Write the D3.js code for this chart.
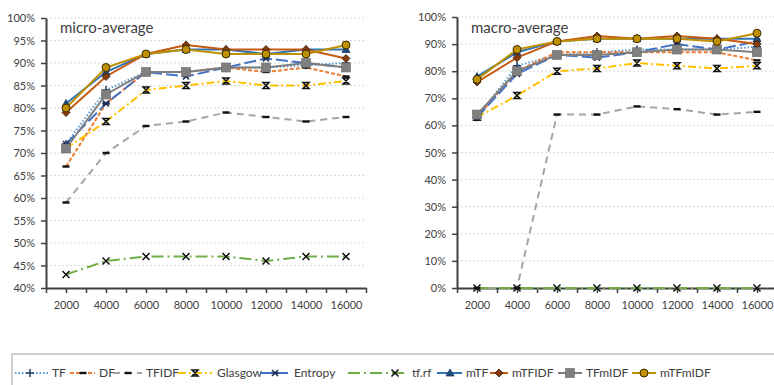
<!doctype html>
<html>
<head>
<meta charset="UTF-8">
<title>micro / macro average</title>
<script src="https://d3js.org/d3.v7.min.js"></script>
<style>
  body { margin: 0; background: #fff; }
  text { font-family: Lato, "Open Sans", sans-serif; fill: #404040; }
</style>
</head>
<body>
<script>
// feature counts on the x axis
var sizes = [2000, 4000, 6000, 8000, 10000, 12000, 14000, 16000];
var names = ["TF", "DF", "TFIDF", "Glasgow", "Entropy", "tf.rf", "mTF", "mTFIDF", "TFmIDF", "mTFmIDF"];

// micro-average (%)
var microTF      = [72, 84, 88, 88, 89, 89, 89.5, 90];
var microDF      = [67, 81, 88, 88, 89, 88, 89, 87];
var microTFIDF   = [59, 70, 76, 77, 79, 78, 77, 78];
var microGlasgow = [71, 77, 84, 85, 86, 85, 85, 86];
var microEntropy = [72, 81, 88, 87, 89, 91, 90, 89];
var microTfrf    = [43, 46, 47, 47, 47, 46, 47, 47];
var microMTF     = [81, 88, 92, 93, 93, 92, 93, 93];
var microMTFIDF  = [79, 87, 92, 94, 93, 93, 93, 91];
var microTFmIDF  = [71, 83, 88, 88, 89, 89, 90, 89];
var microMTFmIDF = [80, 89, 92, 93, 92, 92, 92, 94];

// macro-average (%)
var macroTF      = [63, 82, 86, 87, 88, 88, 88, 89];
var macroDF      = [63, 80, 87, 87, 87, 87, 87, 84];
var macroTFIDF   = [0, 0, 64, 64, 67, 66, 64, 65];
var macroGlasgow = [63, 71, 80, 81, 83, 82, 81, 82];
var macroEntropy = [63, 79, 86, 85, 87, 90, 88, 91];
var macroTfrf    = [0, 0, 0, 0, 0, 0, 0, 0];
var macroMTF     = [78, 87, 91, 92, 92, 92, 92, 92];
var macroMTFIDF  = [76, 85, 91, 93, 92, 93, 92, 90];
var macroTFmIDF  = [64, 80, 86, 86, 87, 88, 88, 87];
var macroMTFmIDF = [77, 88, 91, 92, 92, 92, 91, 94];

var microTicks = [40, 45, 50, 55, 60, 65, 70, 75, 80, 85, 90, 95, 100];
var macroTicks = [0, 10, 20, 30, 40, 50, 60, 70, 80, 90, 100];

var micro = [microTF, microDF, microTFIDF, microGlasgow, microEntropy, microTfrf, microMTF, microMTFIDF, microTFmIDF, microMTFmIDF];
var macro = [macroTF, macroDF, macroTFIDF, macroGlasgow, macroEntropy, macroTfrf, macroMTF, macroMTFIDF, macroTFmIDF, macroMTFmIDF];

// line styles, Excel-like
var styles = [
  {color: "#5b9bd5", dash: "1.5,2",      mark: "plus"},
  {color: "#ed7d31", dash: "4,2",        mark: "dash"},
  {color: "#a5a5a5", dash: "7,5",        mark: "dash"},
  {color: "#ffc000", dash: "8,3,2,3",    mark: "hour"},
  {color: "#4472c4", dash: "12,4",       mark: "star"},
  {color: "#70ad47", dash: "12,4,2,4",   mark: "cross"},
  {color: "#2e75b6", dash: null,         mark: "tri"},
  {color: "#c55a11", dash: null,         mark: "diamond"},
  {color: "#7f7f7f", dash: null,         mark: "square"},
  {color: "#bf9000", dash: null,         mark: "circle"}
];

var svg = d3.select("body").append("svg").attr("width", 774).attr("height", 385);

function marker(g, type, x, y) {
  if (type == "plus") {
    g.append("path").attr("d", "M" + (x-4) + "," + y + "h8M" + x + "," + (y-4) + "v8")
      .attr("stroke", "#1f3864").attr("stroke-width", 1.5);
  } else if (type == "dash") {
    g.append("rect").attr("x", x-3.5).attr("y", y-1.2).attr("width", 7).attr("height", 2.4).attr("fill", "#111");
  } else if (type == "hour") {
    g.append("path").attr("d", "M" + (x-3) + "," + (y-3) + "h6l-6,6h6z")
      .attr("stroke", "#111").attr("stroke-width", 1.5).attr("fill", "none");
  } else if (type == "star") {
    g.append("path").attr("d", "M" + (x-3) + "," + (y-3) + "l6,6M" + (x-3) + "," + (y+3) + "l6,-6M" + (x-3.5) + "," + y + "h7")
      .attr("stroke", "#1f2f5a").attr("stroke-width", 1.6);
  } else if (type == "cross") {
    g.append("path").attr("d", "M" + (x-3.5) + "," + (y-3.5) + "l7,7M" + (x-3.5) + "," + (y+3.5) + "l7,-7")
      .attr("stroke", "#111").attr("stroke-width", 1.5);
  } else if (type == "tri") {
    g.append("path").attr("d", "M" + x + "," + (y-4) + "l4,7h-8z")
      .attr("fill", "#1f4e79").attr("stroke", "#1f3864").attr("stroke-width", 0.8);
  } else if (type == "diamond") {
    g.append("path").attr("d", "M" + x + "," + (y-4) + "l4,4l-4,4l-4,-4z")
      .attr("fill", "#843c0c").attr("stroke", "#3a1a05").attr("stroke-width", 0.8);
  } else if (type == "square") {
    g.append("rect").attr("x", x-4.5).attr("y", y-4.5).attr("width", 9).attr("height", 9)
      .attr("fill", "#808080").attr("stroke", "#6a6a6a").attr("stroke-width", 0.6);
  } else if (type == "circle") {
    g.append("circle").attr("cx", x).attr("cy", y).attr("r", 4)
      .attr("fill", "#bf9000").attr("stroke", "#3a2c00").attr("stroke-width", 1);
  }
}

function panel(opt) {
  var x = d3.scaleLinear().domain([1000, 17000]).range([opt.left, opt.left + 320]);
  var y = d3.scaleLinear().domain([opt.ticks[0], 100]).range([288, opt.top]);
  var g = svg.append("g");

  // dotted gridlines
  g.selectAll(".grid").data(opt.ticks.slice(1)).enter().append("line")
    .attr("x1", opt.left).attr("x2", opt.gridEnd)
    .attr("y1", function(d){ return y(d); }).attr("y2", function(d){ return y(d); })
    .attr("stroke", "#d9d9d9").attr("stroke-dasharray", "2,2");

  var ya = g.append("g").attr("transform", "translate(" + opt.left + ",0)")
    .call(d3.axisLeft(y).tickValues(opt.ticks).tickFormat(function(d){ return d + "%"; }).tickSize(5).tickSizeOuter(0).tickPadding(6));
  var xa = g.append("g").attr("transform", "translate(0,288)")
    .call(d3.axisBottom(x).tickValues(d3.range(1000, 17001, 1000))
      .tickFormat(function(d){ return sizes.indexOf(d) >= 0 ? d : ""; }).tickSize(5).tickSizeOuter(0).tickPadding(8));
  [ya, xa].forEach(function(a){
    a.select(".domain").attr("stroke", "#404040").attr("stroke-width", 2);
    a.selectAll(".tick line").attr("stroke", "#404040").attr("stroke-width", 1.5);
    a.selectAll("text").style("font-size", "11px").attr("fill", "#404040");
  });

  var line = d3.line().x(function(d, i){ return x(sizes[i]); }).y(function(d){ return y(d); });
  opt.data.forEach(function(vals, k) {
    var s = styles[k];
    g.append("path").datum(vals).attr("d", line).attr("fill", "none")
      .attr("stroke", s.color).attr("stroke-width", 2)
      .attr("stroke-dasharray", s.dash);
  });
  opt.data.forEach(function(vals, k) {
    var mg = g.append("g");
    vals.forEach(function(v, i){ marker(mg, styles[k].mark, x(sizes[i]), y(v)); });
  });

  g.append("text").attr("x", opt.left + 14).attr("y", 33).text(opt.title)
    .style("font-size", "15px").attr("fill", "#262626");
}

panel({left: 46, top: 18, gridEnd: 366, ticks: microTicks, data: micro, title: "micro-average"});
panel({left: 457, top: 17, gridEnd: 774, ticks: macroTicks, data: macro, title: "macro-average"});

// legend: [line start, line end, marker x, text x]
var legPos = [
  [15, 48, 30, 52], [70, 95, 83, 99], [113, 142, 128, 146], [178, 212, 195, 217],
  [260, 290, 275, 294], [348, 408, 395, 412], [437, 462, 450, 466], [490, 508, 499, 512],
  [558, 582, 570, 586], [632, 656, 644, 660]
];
var leg = svg.append("g");
leg.append("rect").attr("x", 12).attr("y", 354).attr("width", 780).attr("height", 40)
  .attr("fill", "none").attr("stroke", "#bfbfbf").attr("stroke-width", 1.5);
names.forEach(function(n, k) {
  var s = styles[k], p = legPos[k];
  leg.append("line").attr("x1", p[0]).attr("x2", p[1]).attr("y1", 373).attr("y2", 373)
    .attr("stroke", s.color).attr("stroke-width", 2).attr("stroke-dasharray", s.dash);
  marker(leg, s.mark, p[2], 373);
  leg.append("text").attr("x", p[3]).attr("y", 377).text(n).style("font-size", "12px").attr("fill", "#404040");
});
</script>
</body>
</html>
